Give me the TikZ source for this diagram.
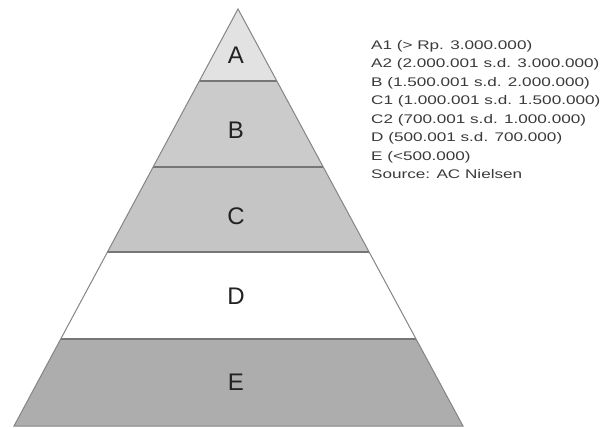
\documentclass[tikz,border=0pt]{standalone}
\usepackage{fontspec}
\setmainfont{Liberation Sans}
\newfontfamily\legendfont[FakeStretch=1.37]{Liberation Sans}
\usetikzlibrary{calc}
\definecolor{bandA}{HTML}{E2E2E2}
\definecolor{bandB}{HTML}{CBCBCB}
\definecolor{bandC}{HTML}{C5C5C5}
\definecolor{bandD}{HTML}{FFFFFF}
\definecolor{bandE}{HTML}{ADADAD}
\definecolor{edgegray}{HTML}{858585}
\definecolor{sepgray}{HTML}{767676}
\definecolor{legendgray}{HTML}{3A3A3A}
\definecolor{lettergray}{HTML}{222222}
\begin{document}
\begin{tikzpicture}[x=1pt,y=-1pt,
  letter/.style={font=\fontsize{24}{28}\selectfont, text=lettergray, inner sep=0pt},
  legend/.style={font=\legendfont\fontsize{12.5}{15}\selectfont, text=legendgray, anchor=base west, inner sep=0pt},
  sep/.style={draw=sepgray, line width=1.3pt},
  outline/.style={draw=edgegray, line width=1pt, line join=miter}]
\useasboundingbox (0,0) rectangle (603,428);
\coordinate (apex) at (238,9);
\coordinate (bl) at (14,426);
\coordinate (br) at (463,426);
\foreach \n/\t in {1/0.1727,2/0.3789,3/0.5827,4/0.7914}{
  \coordinate (l\n) at ($(apex)!\t!(bl)$);
  \coordinate (r\n) at ($(apex)!\t!(br)$);
}
\fill[bandA] (apex) -- (l1) -- (r1) -- cycle;
\fill[bandB] (l1) -- (l2) -- (r2) -- (r1) -- cycle;
\fill[bandC] (l2) -- (l3) -- (r3) -- (r2) -- cycle;
\fill[bandD] (l3) -- (l4) -- (r4) -- (r3) -- cycle;
\fill[bandE] (l4) -- (bl) -- (br) -- (r4) -- cycle;
\foreach \n in {1,2,3,4}{ \draw[sep] (l\n) -- (r\n); }
\draw[outline] (apex) -- (bl) -- (br) -- cycle;
\node[letter] (la) at (236,55) {A};
\node[letter] (lb) at (236,130) {B};
\node[letter] (lc) at (236,216) {C};
\node[letter] (ld) at (236,296) {D};
\node[letter] (le) at (236,382) {E};
\foreach \i/\txt in {0/{A1 (> Rp. 3.000.000)},1/{A2 (2.000.001 s.d. 3.000.000)},2/{B (1.500.001 s.d. 2.000.000)},3/{C1 (1.000.001 s.d. 1.500.000)},4/{C2 (700.001 s.d. 1.000.000)},5/{D (500.001 s.d. 700.000)},6/{E (<500.000)},7/{Source: AC Nielsen}}{
  \node[legend] (leg\i) at (371,49.3+18.5*\i) {\txt};
}
\end{tikzpicture}
\end{document}
